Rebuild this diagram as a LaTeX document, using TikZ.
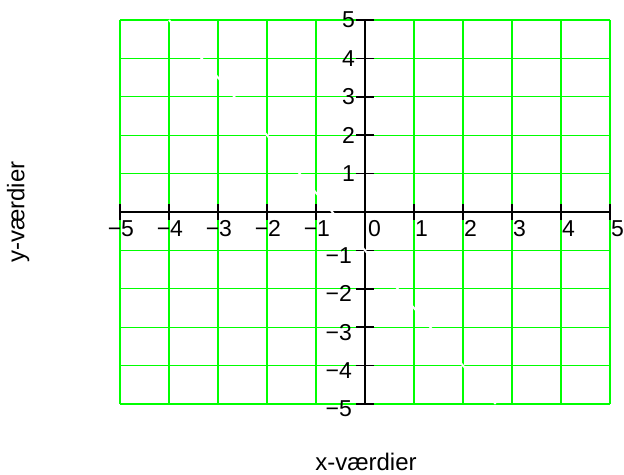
\documentclass[tikz,border=0pt]{standalone}
\usepackage{fontspec}
\setmainfont{Liberation Sans}
\usetikzlibrary{positioning}
\definecolor{gridgreen}{RGB}{0,255,0}

\begin{document}
\begin{tikzpicture}[
    x=49pt, y=38.4pt,
    gridline/.style={gridgreen, line width=1.3pt},
    axis/.style={black, line width=1.6pt},
    ticklabel/.style={font=\fontsize{23}{27}\selectfont, inner sep=0pt},
    axislabel/.style={font=\fontsize{24}{28}\selectfont, inner sep=0pt}
]
\useasboundingbox (-7.449,-6.849) rectangle (5.286,5.521);
% grid
\foreach \i in {-5,...,5} {
    \draw[gridline] (\i,-5) -- (\i,5);
    \draw[gridline] (-5,\i) -- (5,\i);
}
% axes and ticks
\draw[axis] (-5,0) -- (5,0);
\draw[axis] (0,-5) -- (0,5);
\foreach \i in {-5,...,5} {
    \draw[axis] (\i,0) ++(0,-8pt) -- ++(0,16pt);
    \draw[axis] (0,\i) ++(-9pt,0) -- ++(18pt,0);
}
% hidden line
\draw[white, line width=2pt] (-4,5) -- (8/3,-5);
% tick labels
\node[ticklabel, anchor=north west, xshift=3pt, yshift=-8pt] (x0) at (0,0) {0};
\foreach \i in {1,...,5} {
    \node[ticklabel, anchor=north west, xshift=1pt, yshift=-8pt] (xp\i) at (\i,0) {\i};
    \node[ticklabel, anchor=north west, xshift=1pt, yshift=-8pt] (xn\i) at (-\i,0) {\llap{−}\i};
    \node[ticklabel, anchor=east, xshift=-10pt] (yp\i) at (0,\i) {\i};
    \node[ticklabel, anchor=east, xshift=-13pt, yshift=-5pt] (yn\i) at (0,-\i) {−\i};
}
% axis titles
\node[axislabel, rotate=90] (ytitle) at (-7.08,0) {y-værdier};
\node[axislabel] (xtitle) at (0.02,-6.51) {x-værdier};
\end{tikzpicture}
\end{document}
